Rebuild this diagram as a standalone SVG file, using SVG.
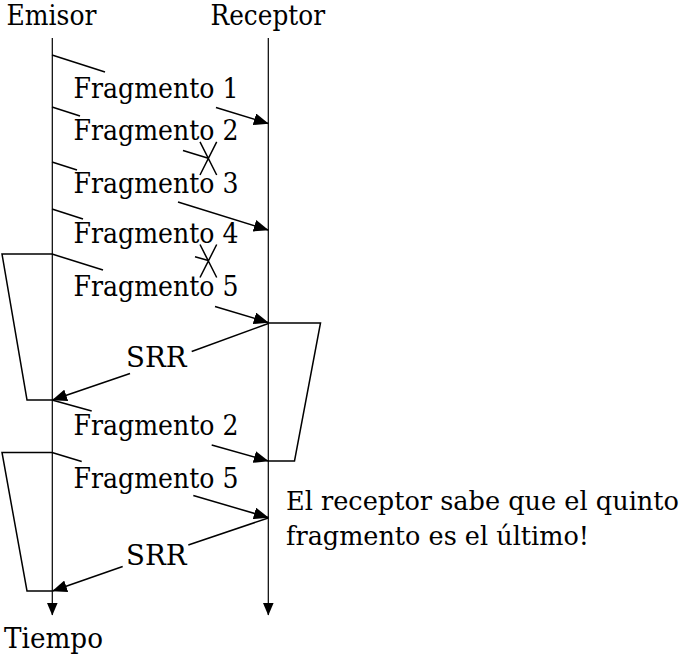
<svg xmlns="http://www.w3.org/2000/svg" width="684" height="657" viewBox="0 0 684 657">
<style>
  text { font-family: "DejaVu Serif", "Liberation Serif", serif; font-size: 27px; fill: #000; }
  .note { font-size: 25.5px; }
  .ln { fill: none; stroke: #000; stroke-width: 1.5; }
  .life { fill: none; stroke: #000; stroke-width: 1.2; }
</style>
<defs>
  <marker id="ah" viewBox="0 0 15 12" refX="14.5" refY="6" markerWidth="15" markerHeight="12" markerUnits="userSpaceOnUse" orient="auto">
    <path d="M0,0 L15,6 L0,12 z" fill="#000"/>
  </marker>
  <marker id="ahv" viewBox="0 0 13 11" refX="12.5" refY="5.5" markerWidth="13" markerHeight="11" markerUnits="userSpaceOnUse" orient="auto">
    <path d="M0,0 L13,5.5 L0,11 z" fill="#000"/>
  </marker>
</defs>
<rect width="684" height="657" fill="#fff"/>

<g id="emisor">
  <text x="6.5" y="25" textLength="90" lengthAdjust="spacingAndGlyphs">Emisor</text>
  <path class="life" d="M52.3,38 L52.3,615" marker-end="url(#ahv)"/>
  <text x="4" y="648" textLength="99" lengthAdjust="spacingAndGlyphs">Tiempo</text>
</g>

<g id="receptor">
  <text x="210.5" y="25" textLength="114.5" lengthAdjust="spacingAndGlyphs">Receptor</text>
  <path class="life" d="M268.3,38 L268.3,615" marker-end="url(#ahv)"/>
  <text class="note" x="286" y="510" textLength="393" lengthAdjust="spacingAndGlyphs">El receptor sabe que el quinto</text>
  <text class="note" x="286" y="545" textLength="303" lengthAdjust="spacingAndGlyphs">fragmento es el último!</text>
</g>

<g id="timers">
  <polyline class="ln" points="52,254 2,254 27,400 52,400"/>
  <polyline class="ln" points="268,323 320.5,323 294.5,461 268,461"/>
  <polyline class="ln" points="52,452.5 2,452.5 27,591 52,591"/>
</g>

<g id="connectors">
  <path class="ln" d="M52,55 L105,72"/>
  <path class="ln" d="M216,107.5 L268.3,123.5" marker-end="url(#ah)"/>

  <path class="ln" d="M52,107 L80,116"/>
  <path class="ln" d="M183,150.5 L208.3,158.3"/>
  <path class="ln" d="M200,141.8 L216.7,175 M216.7,141.8 L200,175"/>

  <path class="ln" d="M52,162 L77,170"/>
  <path class="ln" d="M178,202 L268.3,230" marker-end="url(#ah)"/>

  <path class="ln" d="M52,209 L83,219"/>
  <path class="ln" d="M195,256.7 L208.3,260.5"/>
  <path class="ln" d="M200,244.5 L216.7,277.5 M216.7,244.5 L200,277.5"/>

  <path class="ln" d="M52,254 L103,270"/>
  <path class="ln" d="M215,306.5 L268.3,322.5" marker-end="url(#ah)"/>

  <path class="ln" d="M268.3,323.5 L191.7,351.5"/>
  <path class="ln" d="M130,373.5 L52.5,400" marker-end="url(#ah)"/>

  <path class="ln" d="M52,400 L91.7,411"/>
  <path class="ln" d="M211.7,445 L268.3,461" marker-end="url(#ah)"/>

  <path class="ln" d="M52,452.5 L81.7,461.5"/>
  <path class="ln" d="M193.3,495.5 L268.3,517.5" marker-end="url(#ah)"/>

  <path class="ln" d="M268.3,518 L188.3,545"/>
  <path class="ln" d="M122.7,566.5 L52.5,591" marker-end="url(#ah)"/>
</g>

<g id="labels">
  <text x="73.5" y="98.3" textLength="165" lengthAdjust="spacingAndGlyphs">Fragmento 1</text>
  <text x="73.5" y="140" textLength="165" lengthAdjust="spacingAndGlyphs">Fragmento 2</text>
  <text x="73.5" y="193.3" textLength="165" lengthAdjust="spacingAndGlyphs">Fragmento 3</text>
  <text x="73.5" y="243.3" textLength="165" lengthAdjust="spacingAndGlyphs">Fragmento 4</text>
  <text x="73.5" y="295.7" textLength="165" lengthAdjust="spacingAndGlyphs">Fragmento 5</text>
  <text x="126" y="366.7" textLength="60.5" lengthAdjust="spacingAndGlyphs">SRR</text>
  <text x="73.5" y="435" textLength="165" lengthAdjust="spacingAndGlyphs">Fragmento 2</text>
  <text x="73.5" y="487.7" textLength="165" lengthAdjust="spacingAndGlyphs">Fragmento 5</text>
  <text x="126" y="565" textLength="60.5" lengthAdjust="spacingAndGlyphs">SRR</text>
</g>
</svg>
